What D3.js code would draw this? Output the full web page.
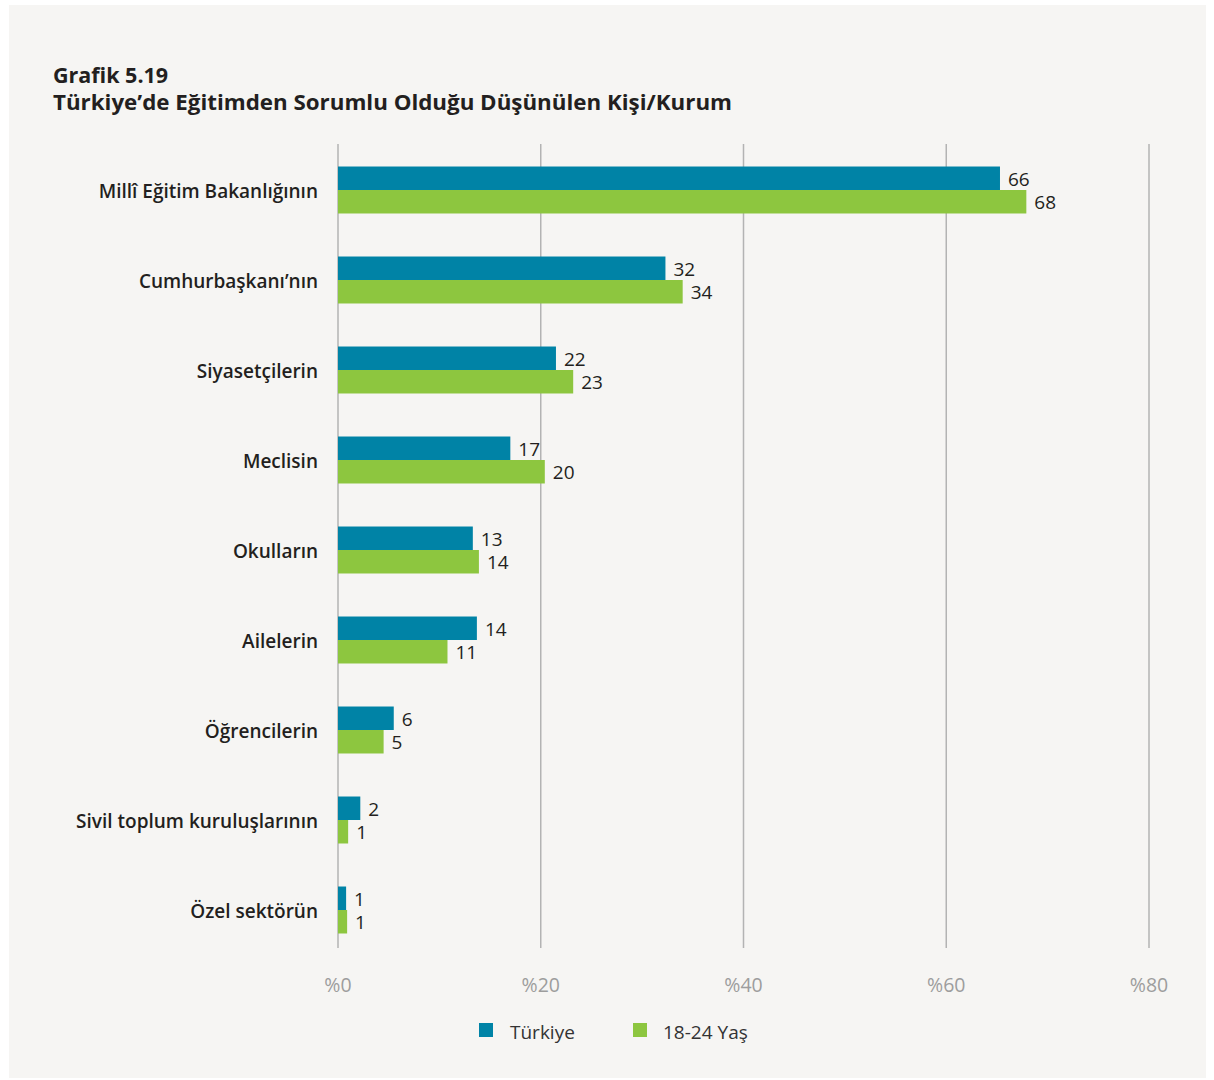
<!DOCTYPE html>
<html>
<head>
<meta charset="utf-8">
<script src="https://cdn.jsdelivr.net/npm/d3@7"></script>
<style>
  body { margin: 0; background: #fff; }
  svg { display: block; font-family: "Open Sans", "Lato", sans-serif; }
</style>
</head>
<body>
<div class="chart"></div>
<script>
const categories = [
  "Millî Eğitim Bakanlığının",
  "Cumhurbaşkanı’nın",
  "Siyasetçilerin",
  "Meclisin",
  "Okulların",
  "Ailelerin",
  "Öğrencilerin",
  "Sivil toplum kuruluşlarının",
  "Özel sektörün",
];
const seriesNames = ["Türkiye", "18-24 Yaş"];
// bar lengths, labels as printed
const turkiye = [65.3, 32.3, 21.5, 17.0, 13.3, 13.7, 5.5, 2.2, 0.8];
const genc = [67.9, 34.0, 23.2, 20.4, 13.9, 10.8, 4.5, 1.0, 0.9];
const turkiyeLabels = [66, 32, 22, 17, 13, 14, 6, 2, 1];
const gencLabels = [68, 34, 23, 20, 14, 11, 5, 1, 1];
const xTicks = [0, 20, 40, 60, 80];

const colors = ["#0083a6", "#8dc63f"];
const width = 1214;
const height = 1080;

const svg = d3
  .select(".chart")
  .append("svg")
  .attr("width", width)
  .attr("height", height);

svg
  .append("rect")
  .attr("x", 9)
  .attr("y", 5)
  .attr("width", 1197)
  .attr("height", 1073)
  .attr("fill", "#f6f5f3");

svg
  .append("text")
  .attr("x", 53)
  .attr("y", 83)
  .attr("font-size", 21.5)
  .attr("font-weight", 700)
  .attr("fill", "#231f20")
  .text("Grafik 5.19");

svg
  .append("text")
  .attr("x", 53)
  .attr("y", 110)
  .attr("font-size", 21.5)
  .attr("font-weight", 700)
  .attr("fill", "#231f20")
  .attr("textLength", 679)
  .attr("lengthAdjust", "spacingAndGlyphs")
  .text("Türkiye’de Eğitimden Sorumlu Olduğu Düşünülen Kişi/Kurum");

const xScale = d3.scaleLinear().domain([0, 80]).range([338, 1149]);

const yScale = d3
  .scaleBand()
  .domain(categories)
  .range([145, 955])
  .paddingInner(0.478)
  .paddingOuter(0.239);

const ySub = d3
  .scaleBand()
  .domain(seriesNames)
  .range([0, yScale.bandwidth()]);

// grid lines
svg
  .append("g")
  .selectAll("line")
  .data(xTicks)
  .enter()
  .append("line")
  .attr("x1", (d) => xScale(d))
  .attr("x2", (d) => xScale(d))
  .attr("y1", 144)
  .attr("y2", 948)
  .attr("stroke", "#b3b3b3")
  .attr("stroke-width", 1.5);

svg
  .append("g")
  .selectAll("text")
  .data(xTicks)
  .enter()
  .append("text")
  .attr("x", (d) => xScale(d))
  .attr("y", 992)
  .attr("text-anchor", "middle")
  .attr("font-size", 19.5)
  .attr("font-weight", 400)
  .attr("fill", "#9d9d9d")
  .text((d) => "%" + d);

// category labels
svg
  .append("g")
  .selectAll("text")
  .data(categories)
  .enter()
  .append("text")
  .attr("x", 318)
  .attr("y", (d) => yScale(d) + yScale.bandwidth() / 2 + 8)
  .attr("text-anchor", "end")
  .attr("font-size", 19)
  .attr("font-weight", 600)
  .attr("fill", "#231f20")
  .text((d) => d);

const rows = categories.map((c, i) => ({
  cat: c,
  values: [
    { key: seriesNames[0], v: turkiye[i], label: turkiyeLabels[i] },
    { key: seriesNames[1], v: genc[i], label: gencLabels[i] },
  ],
}));

const groups = svg
  .append("g")
  .selectAll("g")
  .data(rows)
  .enter()
  .append("g")
  .attr("transform", (d) => `translate(0,${yScale(d.cat)})`);

groups
  .selectAll("rect")
  .data((d) => d.values)
  .enter()
  .append("rect")
  .attr("x", xScale(0))
  .attr("y", (d) => ySub(d.key))
  .attr("width", (d) => xScale(d.v) - xScale(0))
  .attr("height", ySub.bandwidth())
  .attr("fill", (d, i) => colors[i]);

groups
  .selectAll("text")
  .data((d) => d.values)
  .enter()
  .append("text")
  .attr("x", (d) => xScale(d.v) + 8)
  .attr("y", (d) => ySub(d.key) + ySub.bandwidth() / 2 + 7.5)
  .attr("font-size", 19)
  .attr("font-weight", 500)
  .attr("fill", "#231f20")
  .text((d) => d.label);

// legend
const legendX = [479, 633];
const legend = svg
  .append("g")
  .selectAll("g")
  .data(seriesNames)
  .enter()
  .append("g")
  .attr("transform", (d, i) => `translate(${legendX[i]},1023)`);

legend
  .append("rect")
  .attr("width", 14)
  .attr("height", 14)
  .attr("fill", (d, i) => colors[i]);

legend
  .append("text")
  .attr("x", (d, i) => (i == 0 ? 31 : 30))
  .attr("y", 16)
  .attr("font-size", 19)
  .attr("font-weight", 400)
  .attr("fill", "#333")
  .text((d) => d);
</script>
</body>
</html>
